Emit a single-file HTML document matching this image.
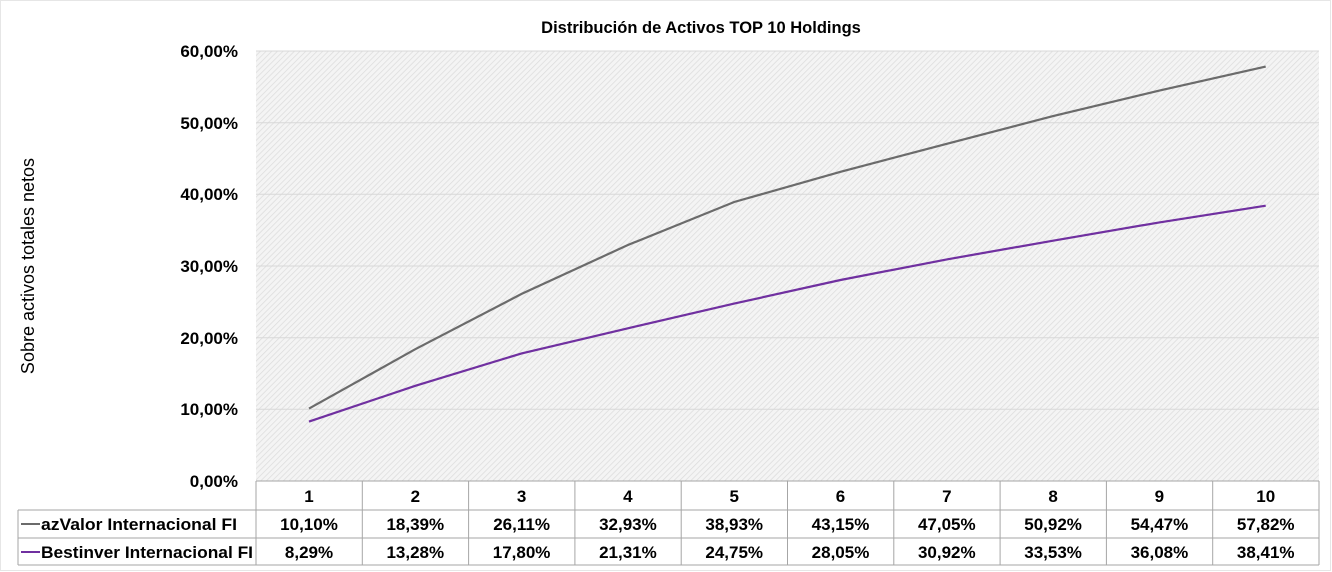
<!DOCTYPE html>
<html><head><meta charset="utf-8"><style>body{margin:0;background:#fff}svg{display:block}</style></head><body>
<svg width="1332" height="572" xmlns="http://www.w3.org/2000/svg" font-family="Liberation Sans, sans-serif">
<defs><pattern id="h" width="4" height="4" patternUnits="userSpaceOnUse" patternTransform="rotate(45)"><rect width="4" height="4" fill="#f4f4f4"/><line x1="0" y1="0" x2="0" y2="4" stroke="#dcdcdc" stroke-width="1.5"/></pattern></defs>
<rect x="0" y="0" width="1332" height="572" fill="#fff"/>
<rect x="0.5" y="0.5" width="1330" height="570" fill="none" stroke="#e6e6e6"/>
<text x="701" y="33" text-anchor="middle" font-size="16.5" font-weight="bold">Distribución de Activos TOP 10 Holdings</text>
<rect x="256" y="51" width="1063" height="430" fill="url(#h)"/>
<g stroke="#d8d8d8" stroke-width="1">
<line x1="256" y1="51" x2="1319" y2="51"/><line x1="256" y1="122.7" x2="1319" y2="122.7"/><line x1="256" y1="194.3" x2="1319" y2="194.3"/><line x1="256" y1="266" x2="1319" y2="266"/><line x1="256" y1="337.7" x2="1319" y2="337.7"/><line x1="256" y1="409.3" x2="1319" y2="409.3"/>
</g>
<g font-size="17" font-weight="bold" text-anchor="end">
<text x="238" y="57">60,00%</text><text x="238" y="129">50,00%</text><text x="238" y="200">40,00%</text><text x="238" y="272">30,00%</text><text x="238" y="344">20,00%</text><text x="238" y="415">10,00%</text><text x="238" y="487">0,00%</text>
</g>
<text transform="translate(34,266) rotate(-90)" text-anchor="middle" font-size="18">Sobre activos totales netos</text>
<polyline fill="none" stroke="#6b6b6b" stroke-width="2.2" points="309,408.6 415.3,349.2 521.6,293.9 627.9,245 734.2,202 840.5,171.8 946.8,143.8 1053.1,116.1 1159.4,90.6 1265.7,66.6"/>
<polyline fill="none" stroke="#7030a0" stroke-width="2.2" points="309,421.6 415.3,385.8 521.6,353.4 627.9,328.3 734.2,303.6 840.5,280 946.8,259.4 1053.1,240.7 1159.4,222.4 1265.7,205.7"/>
<g stroke="#a6a6a6" stroke-width="1" fill="none">
<line x1="256" y1="481" x2="1319" y2="481"/>
<line x1="18" y1="510" x2="1319" y2="510"/>
<line x1="18" y1="538" x2="1319" y2="538"/>
<line x1="18" y1="565" x2="1319" y2="565"/>
<line x1="18" y1="510" x2="18" y2="565"/>
<line x1="256" y1="481" x2="256" y2="565"/><line x1="362.3" y1="481" x2="362.3" y2="565"/><line x1="468.6" y1="481" x2="468.6" y2="565"/><line x1="574.9" y1="481" x2="574.9" y2="565"/><line x1="681.2" y1="481" x2="681.2" y2="565"/><line x1="787.5" y1="481" x2="787.5" y2="565"/><line x1="893.8" y1="481" x2="893.8" y2="565"/><line x1="1000.1" y1="481" x2="1000.1" y2="565"/><line x1="1106.4" y1="481" x2="1106.4" y2="565"/><line x1="1212.7" y1="481" x2="1212.7" y2="565"/><line x1="1319" y1="481" x2="1319" y2="565"/>
</g>
<line x1="21" y1="524" x2="40" y2="524" stroke="#6b6b6b" stroke-width="2"/>
<line x1="21" y1="552" x2="40" y2="552" stroke="#7030a0" stroke-width="2"/>
<g font-size="17" font-weight="bold">
<text x="41" y="530" textLength="196" lengthAdjust="spacingAndGlyphs">azValor Internacional FI</text>
<text x="41" y="558" textLength="212" lengthAdjust="spacingAndGlyphs">Bestinver Internacional FI</text>
</g>
<g font-size="17" font-weight="bold" text-anchor="middle">
<text x="309" y="502">1</text><text x="415.3" y="502">2</text><text x="521.6" y="502">3</text><text x="627.9" y="502">4</text><text x="734.2" y="502">5</text><text x="840.5" y="502">6</text><text x="946.8" y="502">7</text><text x="1053.1" y="502">8</text><text x="1159.4" y="502">9</text><text x="1265.7" y="502">10</text>
<text x="309" y="530">10,10%</text><text x="415.3" y="530">18,39%</text><text x="521.6" y="530">26,11%</text><text x="627.9" y="530">32,93%</text><text x="734.2" y="530">38,93%</text><text x="840.5" y="530">43,15%</text><text x="946.8" y="530">47,05%</text><text x="1053.1" y="530">50,92%</text><text x="1159.4" y="530">54,47%</text><text x="1265.7" y="530">57,82%</text>
<text x="309" y="558">8,29%</text><text x="415.3" y="558">13,28%</text><text x="521.6" y="558">17,80%</text><text x="627.9" y="558">21,31%</text><text x="734.2" y="558">24,75%</text><text x="840.5" y="558">28,05%</text><text x="946.8" y="558">30,92%</text><text x="1053.1" y="558">33,53%</text><text x="1159.4" y="558">36,08%</text><text x="1265.7" y="558">38,41%</text>
</g>
</svg>
</body></html>
